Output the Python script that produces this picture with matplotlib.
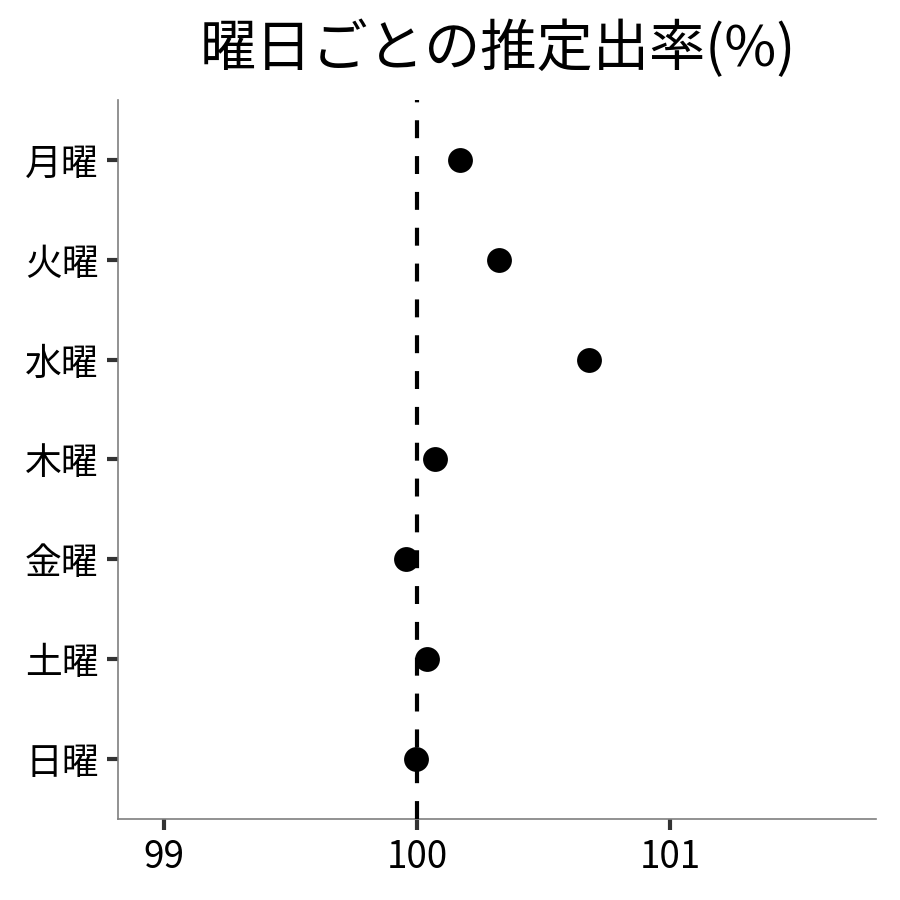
import matplotlib
matplotlib.use('Agg')
import matplotlib.pyplot as plt

plt.rcParams['font.family'] = ['Noto Sans CJK JP', 'DejaVu Sans']

days = ['月曜', '火曜', '水曜', '木曜', '金曜', '土曜', '日曜']
rates = [100.17, 100.325, 100.68, 100.07, 99.955, 100.04, 99.995]
xticks = [99, 100, 101]
ref_line = 100

fig = plt.figure(figsize=(9, 9), dpi=100)
ax = fig.add_axes([0.1311, 0.09, 0.8422, 0.7989])

ypos = list(range(len(days), 0, -1))
ax.scatter(rates, ypos, s=320, color='black', zorder=2, linewidths=0)
ax.axvline(ref_line, color='black', linestyle=(0, (4.3, 4.3)), linewidth=3, zorder=3)

ax.set_xlim(98.818, 101.814)
ax.set_ylim(0.4, 7.6)
ax.set_xticks(xticks)
ax.set_xticklabels([str(t) for t in xticks])
ax.set_yticks(ypos)
ax.set_yticklabels(days)

for side in ['top', 'right']:
    ax.spines[side].set_visible(False)
for side in ['left', 'bottom']:
    ax.spines[side].set_color('#7f7f7f')
    ax.spines[side].set_linewidth(1.2)
ax.tick_params(axis='both', colors='#333333', length=8, width=3, labelsize=26.5,
               labelcolor='black', pad=6)

fig.text(0.553, 0.927, '曜日ごとの推定出率(%)', ha='center', va='baseline', fontsize=40.5)

fig.savefig('out.png', dpi=100)
